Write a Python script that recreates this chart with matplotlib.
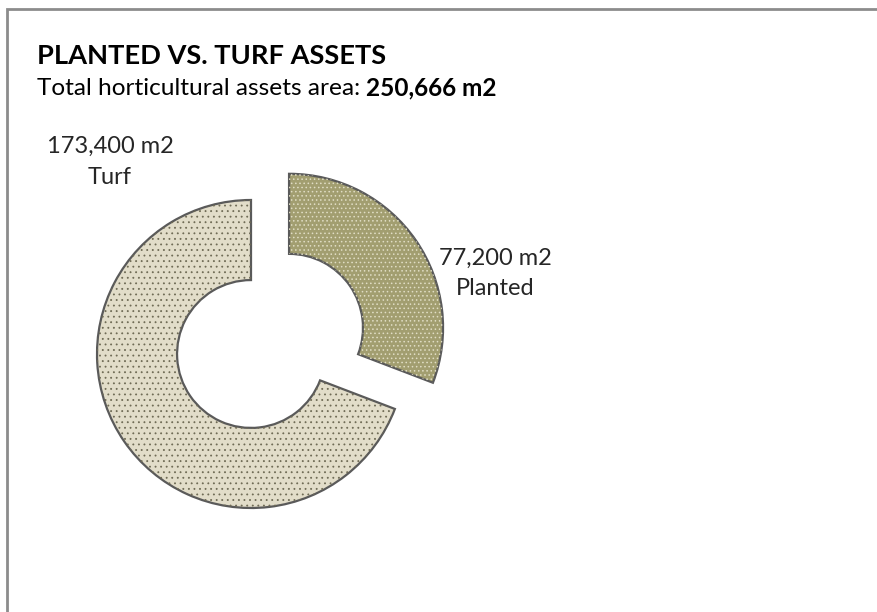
import matplotlib.pyplot as plt
from matplotlib.patches import Rectangle

# Horticultural asset areas (m2)
categories = ["Planted", "Turf"]
areas = [77200, 173400]
total_area = 250666
colors = ["#a29e70", "#e2ddc9"]
dot_colors = ["#e0ddc4", "#6f6b55"]
hatches = ["....", "..."]

plt.rcParams['font.family'] = ['Lato', 'DejaVu Sans']
plt.rcParams['hatch.linewidth'] = 0.6

W, H = 878, 612
R = 154.0  # donut radius in pixels


def fx(px):
    return px / W


def fy(py):
    return 1 - py / H


fig = plt.figure(figsize=(W / 100, H / 100), dpi=100)
ax = fig.add_axes([0, 0, 1, 1])

explode = [0.3, 0]
wedge_kw = dict(explode=explode, startangle=90, counterclock=False, radius=1, frame=True)
# filled ring with dark outline
ax.pie(areas, colors=colors, wedgeprops=dict(width=0.52, edgecolor="#5a5a5a", linewidth=1.6), **wedge_kw)
# dotted texture drawn over the fill
dots, _ = ax.pie(areas, colors=["none", "none"], wedgeprops=dict(width=0.52, linewidth=0), **wedge_kw)
for w, h, dc in zip(dots, hatches, dot_colors):
    w.set_hatch(h)
    w.set_edgecolor(dc)
    w.set_linewidth(0)
    w.set_facecolor("none")

ax.set_xlim(-251 / R, (W - 251) / R)
ax.set_ylim(-(H - 354) / R, 354 / R)
ax.axis("off")

# slice labels
lab_kw = dict(ha="center", va="baseline", fontsize=17, color="#262626")
fig.text(fx(495), fy(265), "{:,} m2".format(areas[0]), **lab_kw)
fig.text(fx(495), fy(295), categories[0], **lab_kw)
fig.text(fx(110), fy(153), "{:,} m2".format(areas[1]), **lab_kw)
fig.text(fx(110), fy(184), categories[1], **lab_kw)

# title block
fig.text(fx(37), fy(64), "PLANTED VS. TURF ASSETS", fontsize=19.6, fontweight="bold",
         ha="left", va="baseline", color="#000000")
t = fig.text(fx(37), fy(95), "Total horticultural assets area: ", fontsize=17.6,
             ha="left", va="baseline", color="#000000")
fig.canvas.draw()
bb = t.get_window_extent().transformed(fig.transFigure.inverted())
fig.text(bb.x1, fy(95), "{:,} m2".format(total_area), fontsize=17.6, fontweight="bold",
         ha="left", va="baseline", color="#000000")

# chart area border
fig.patches.append(Rectangle((fx(7), -0.1), 1.2, fy(9) + 0.1, transform=fig.transFigure,
                             fill=False, edgecolor="#8c8c8c", linewidth=2))

fig.savefig("out.png", dpi=100, facecolor="white")
